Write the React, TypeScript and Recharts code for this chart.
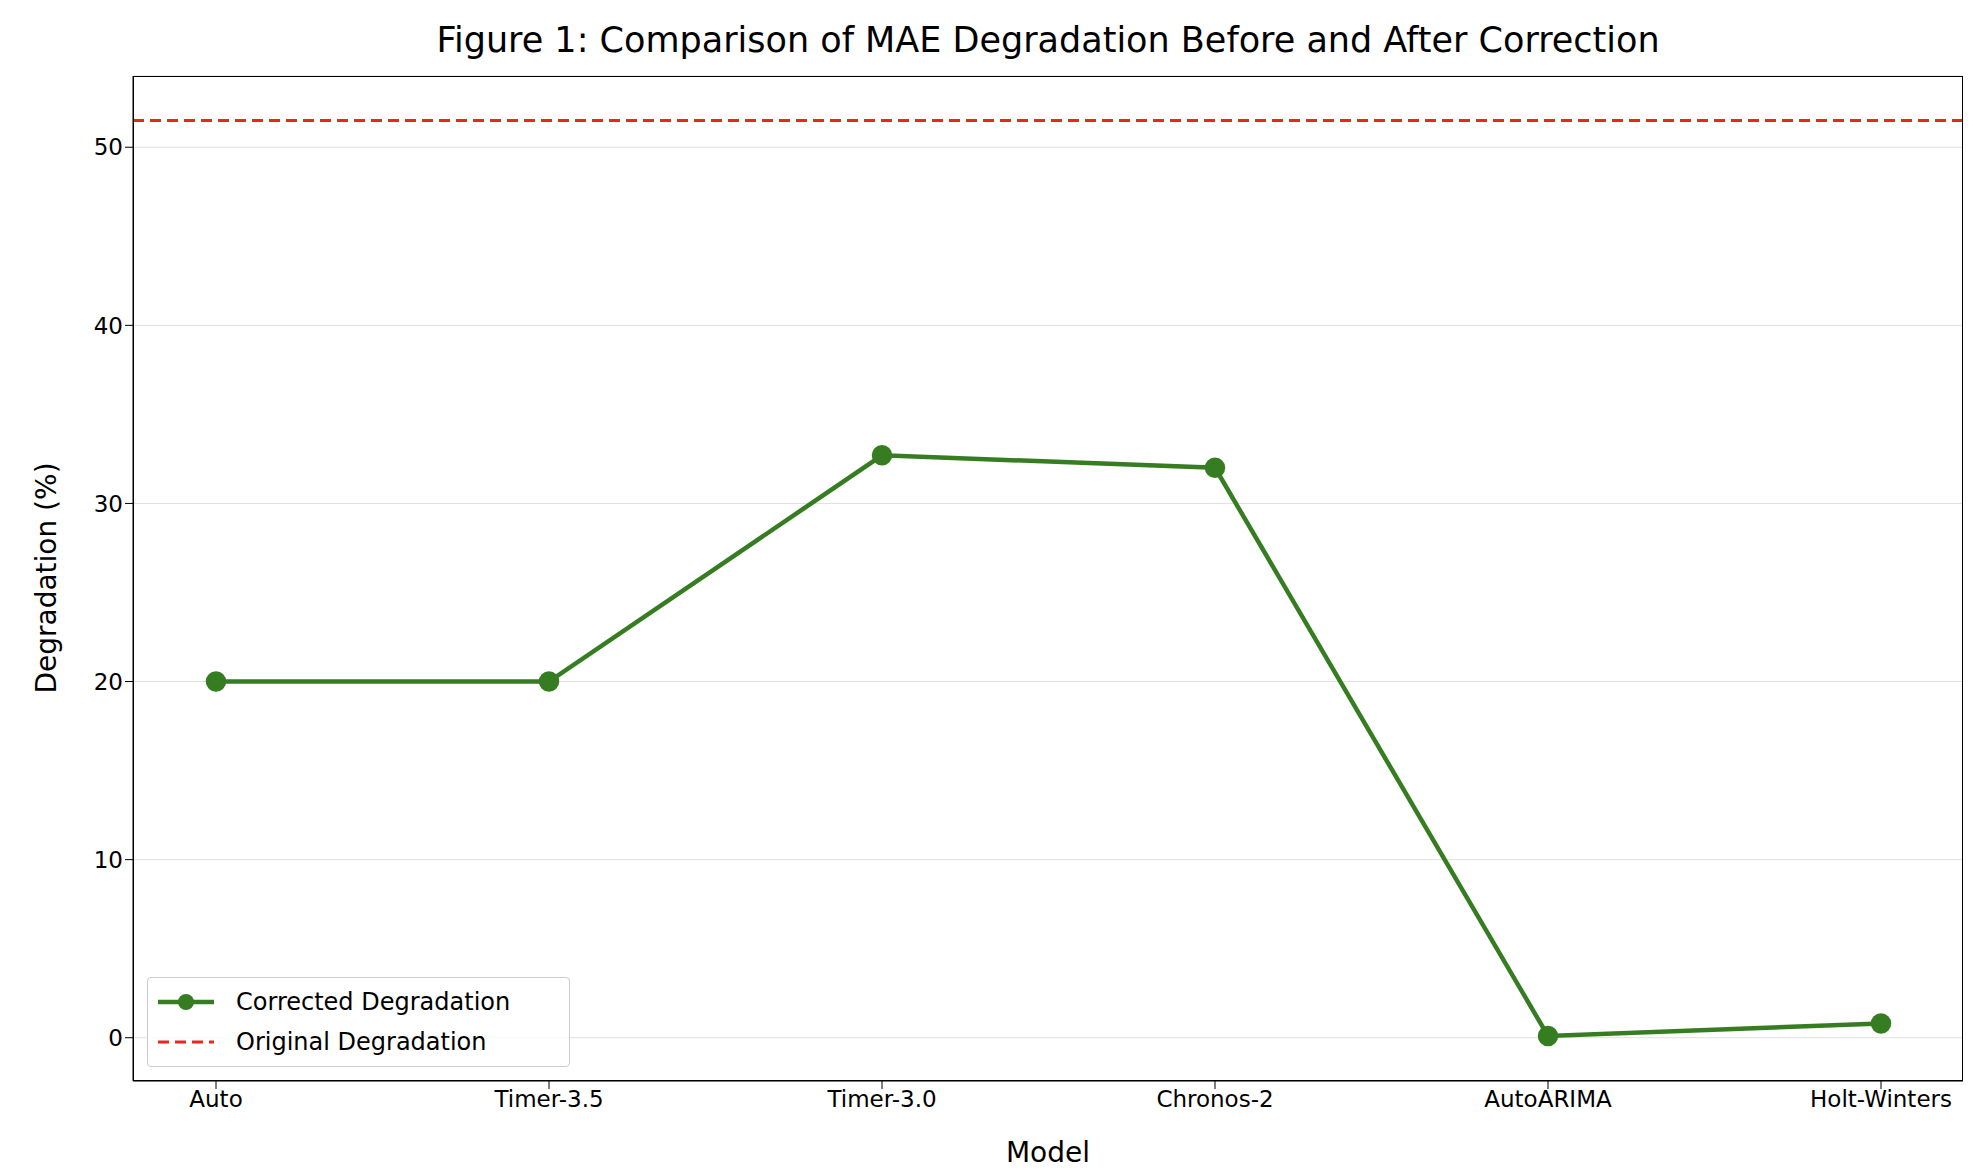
import React from "react";
import { LineChart, Line, XAxis, YAxis, CartesianGrid, ReferenceLine } from "recharts";

const models = ["Auto", "Timer-3.5", "Timer-3.0", "Chronos-2", "AutoARIMA", "Holt-Winters"];
const corrected = [20.0, 20.0, 32.7, 32.0, 0.1, 0.8];
const originalDegradation = 51.5;
const yTicks = [0, 10, 20, 30, 40, 50];

const data = models.map((m, i) => ({ model: m, corrected: corrected[i] }));
const font = "DejaVu Sans, sans-serif";

export default function App() {
  return (
    <div style={{ position: "absolute", left: 0, top: 0, width: 1982, height: 1170, background: "#fff", fontFamily: font }}>
      <div style={{ position: "absolute", left: 133, width: 1830, top: 20, textAlign: "center", fontSize: 35 }}>
        Figure 1: Comparison of MAE Degradation Before and After Correction
      </div>
      <LineChart width={1982} height={1170} data={data} margin={{ top: 76, right: 19, left: 73, bottom: 59 }}>
        <CartesianGrid horizontal vertical={false} stroke="#e0e0e0" />
        <XAxis dataKey="model" height={30} padding={{ left: 83, right: 82 }} tick={{ fontSize: 23, fill: "#000", fontFamily: font }} tickLine={{ stroke: "#000" }} axisLine={{ stroke: "#000" }} tickSize={8} />
        <YAxis width={60} type="number" domain={[-2.43, 54]} ticks={yTicks} allowDataOverflow tick={{ fontSize: 23, fill: "#000", fontFamily: font }} tickLine={{ stroke: "#000" }} axisLine={{ stroke: "#000" }} tickSize={8} />
        <ReferenceLine y={originalDegradation} stroke="#e8281e" strokeWidth={3} strokeDasharray="11 6" />
        <Line dataKey="corrected" stroke="#367d22" strokeWidth={4.5} dot={{ r: 8, fill: "#367d22", stroke: "#367d22" }} isAnimationActive={false} />
      </LineChart>
      <div style={{ position: "absolute", left: 133, top: 76, width: 1830, height: 1005, border: "1.5px solid #000", boxSizing: "border-box", pointerEvents: "none" }} />
      <div style={{ position: "absolute", left: 1048, top: 1136, transform: "translateX(-50%)", fontSize: 28 }}>Model</div>
      <div style={{ position: "absolute", left: 46, top: 578, transform: "translate(-50%,-50%) rotate(-90deg)", fontSize: 28, whiteSpace: "nowrap" }}>Degradation (%)</div>
      <div style={{ position: "absolute", left: 147, top: 977, width: 423, height: 90, border: "1px solid #ccc", borderRadius: 4, background: "rgba(255,255,255,0.85)", boxSizing: "border-box", fontSize: 24 }}>
        <div style={{ position: "absolute", left: 8, top: 10, display: "flex", alignItems: "center" }}>
          <svg width={60} height={24}><line x1={2} y1={12} x2={58} y2={12} stroke="#367d22" strokeWidth={4.5} /><circle cx={30} cy={12} r={8} fill="#367d22" /></svg>
          <span style={{ marginLeft: 20 }}>Corrected Degradation</span>
        </div>
        <div style={{ position: "absolute", left: 8, top: 50, display: "flex", alignItems: "center" }}>
          <svg width={60} height={24}><line x1={2} y1={12} x2={58} y2={12} stroke="#e8281e" strokeWidth={3} strokeDasharray="11 6" /></svg>
          <span style={{ marginLeft: 20 }}>Original Degradation</span>
        </div>
      </div>
    </div>
  );
}
